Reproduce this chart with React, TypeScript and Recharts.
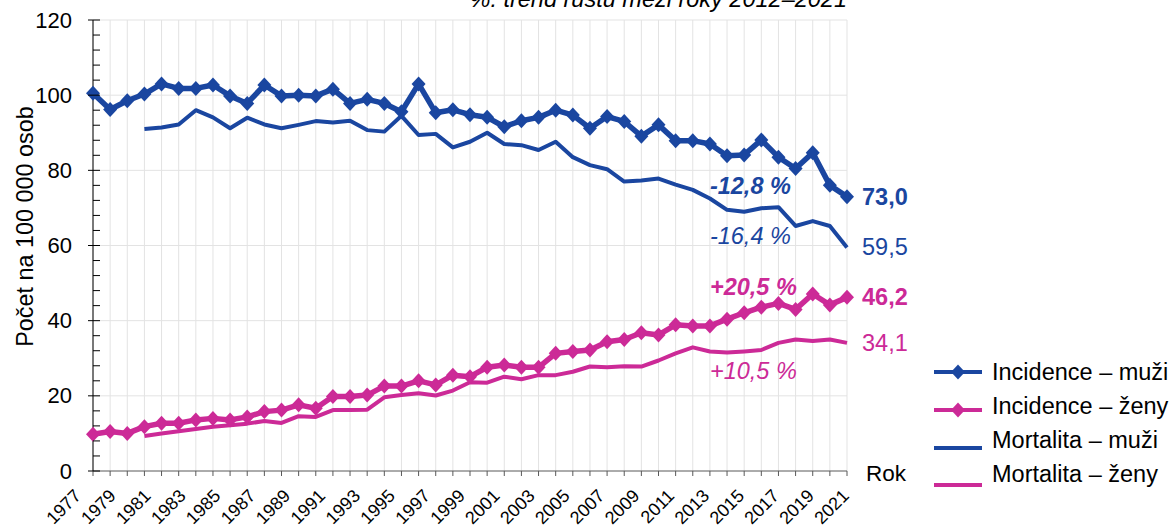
import React from 'react'
import { LineChart, Line, XAxis, YAxis, CartesianGrid, Legend, ReferenceDot } from 'recharts'

const BLUE = '#1a46a0'
const PINK = '#cc2a97'
const FONT = 'Arial, "Liberation Sans", sans-serif'

const years = [
  1977, 1978, 1979, 1980, 1981, 1982, 1983, 1984, 1985, 1986,
  1987, 1988, 1989, 1990, 1991, 1992, 1993, 1994, 1995, 1996,
  1997, 1998, 1999, 2000, 2001, 2002, 2003, 2004, 2005, 2006,
  2007, 2008, 2009, 2010, 2011, 2012, 2013, 2014, 2015, 2016,
  2017, 2018, 2019, 2020, 2021,
]

const incidenceMuzi = [
  100.5, 96.2, 98.5, 100.3, 103.0, 101.8, 101.8, 102.7, 99.8, 97.8,
  102.7, 99.8, 100.0, 99.8, 101.6, 97.8, 98.9, 97.8, 95.6, 103.0,
  95.3, 96.1, 94.8, 94.1, 91.6, 93.2, 94.1, 96.0, 94.7, 91.2,
  94.3, 93.0, 89.1, 92.1, 87.9, 87.9, 87.0, 83.9, 84.1, 88.1,
  83.5, 80.5, 84.7, 76.0, 73.0,
]

const incidenceZeny = [
  9.8, 10.5, 10.0, 11.8, 12.7, 12.7, 13.6, 14.0, 13.6, 14.4,
  15.8, 16.2, 17.6, 16.7, 19.8, 19.8, 20.2, 22.6, 22.6, 24.0,
  22.9, 25.5, 25.1, 27.6, 28.2, 27.6, 27.6, 31.3, 31.8, 32.2,
  34.4, 35.0, 36.8, 36.2, 38.9, 38.6, 38.6, 40.4, 42.1, 43.6,
  44.6, 43.0, 47.1, 44.2, 46.2,
]

const mortalitaMuzi = [
  null, null, null, 91.0, 91.4, 92.2, 96.0, 94.1, 91.2, 94.0,
  92.2, 91.2, 92.1, 93.1, 92.7, 93.2, 90.7, 90.3, 94.5, 89.4,
  89.7, 86.1, 87.6, 90.0, 87.0, 86.7, 85.4, 87.6, 83.5, 81.4,
  80.3, 77.0, 77.3, 77.8, 76.2, 74.8, 72.5, 69.5, 69.0, 69.9,
  70.2, 65.2, 66.5, 65.2, 59.5,
]

const mortalitaZeny = [
  null, null, null, 9.3, 10.0, 10.6, 11.2, 11.8, 12.2, 12.6,
  13.3, 12.8, 14.6, 14.4, 16.2, 16.2, 16.3, 19.6, 20.2, 20.7,
  20.1, 21.4, 23.6, 23.5, 25.1, 24.4, 25.5, 25.5, 26.4, 27.8,
  27.6, 27.9, 27.8, 29.4, 31.3, 32.9, 31.8, 31.5, 31.8, 32.2,
  34.1, 35.0, 34.6, 35.0, 34.1,
]

const yTicks = [0, 4, 8, 12, 16, 20, 24, 28, 32, 36, 40, 44, 48, 52, 56, 60, 64, 68, 72, 76, 80, 84, 88, 92, 96, 100, 104, 108, 112, 116, 120]
const gridValues = [20, 40, 60, 80, 100, 120]

const seriesNames = ['Incidence – muži', 'Incidence – ženy', 'Mortalita – muži', 'Mortalita – ženy']

// trend annotations, placed at 2013
const noteYear = 2013
const noteValues = [75.7, 62.4, 49.0, 26.5]
const noteTexts = ['-12,8 %', '-16,4 %', '+20,5 %', '+10,5 %']
const noteColors = [BLUE, BLUE, PINK, PINK]
const noteBold = [true, false, true, false]

const data = years.map((year, i) => ({
  year,
  incM: incidenceMuzi[i],
  incZ: incidenceZeny[i],
  morM: mortalitaMuzi[i],
  morZ: mortalitaZeny[i],
}))

const last = years.length - 1

const diamond = (color: string) => (props: any) => {
  const { cx, cy, index, value } = props
  if (value == null || cx == null) return <g key={`d-${index}`} />
  return (
    <path
      key={`d-${index}`}
      d={`M${cx},${cy - 7.5} L${cx + 7},${cy} L${cx},${cy + 7.5} L${cx - 7},${cy} Z`}
      fill={color}
      stroke='none'
    />
  )
}

const endLabel = (color: string, bold: boolean) => (props: any) => {
  const { x, y, index, value } = props
  if (index !== last) return <g key={`l-${index}`} />
  return (
    <text
      key={`l-${index}`}
      x={x + 15}
      y={y}
      dominantBaseline='central'
      fontSize={23.5}
      fontWeight={bold ? 'bold' : 'normal'}
      fill={color}
    >
      {Number(value).toFixed(1).replace('.', ',')}
    </text>
  )
}

const YTick = (props: any) => {
  const { x, y, payload } = props
  const major = payload.value % 20 === 0
  const ax = x + 21
  return (
    <g>
      <line x1={major ? ax - 5 : ax} x2={ax + 7} y1={y} y2={y} stroke='#000' strokeWidth={1} />
      {major && (
        <text x={x} y={y} textAnchor='end' dominantBaseline='central' fontSize={22} fill='#000'>
          {payload.value}
        </text>
      )}
    </g>
  )
}

const XTick = (props: any) => {
  const { x, y, payload } = props
  const k = payload.value - 1977
  if (k % 2 !== 0) return <g />
  const tx = x - 11 + (k / 44) * 14
  return (
    <text x={tx} y={y} textAnchor='end' fontSize={18} fill='#000' transform={`rotate(-45 ${tx} ${y})`}>
      {payload.value}
    </text>
  )
}

const LegendBox = () => {
  const colors = [BLUE, PINK, BLUE, PINK]
  return (
    <div style={{ fontFamily: FONT }}>
      {seriesNames.map((name, i) => (
        <div key={name} style={{ position: 'relative', height: 34, whiteSpace: 'nowrap' }}>
          <svg width={48} height={16} style={{ position: 'absolute', left: 0, top: 9 + i * 3.8 }}>
            <line x1={0} x2={48} y1={8} y2={8} stroke={colors[i]} strokeWidth={4} />
            {i < 2 && <path d='M24,0.5 L31,8 L24,15.5 L17,8 Z' fill={colors[i]} />}
          </svg>
          <span style={{ position: 'absolute', left: 58, top: 0, lineHeight: '34px', fontSize: 23.5, color: '#000' }}>
            {name}
          </span>
        </div>
      ))}
    </div>
  )
}

export default function App() {
  return (
    <div style={{ position: 'absolute', left: 0, top: 0, width: 1173, height: 527, background: '#fff', fontFamily: FONT }}>
      <svg width={1173} height={30} style={{ position: 'absolute', left: 0, top: 0 }}>
        <text x={847} y={7} textAnchor='end' fontSize={23.5} fontStyle='italic' fill='#000' fontFamily={FONT}>
          %. trend růstu mezi roky 2012–2021
        </text>
      </svg>
      <LineChart
        width={1173}
        height={527}
        data={data}
        margin={{ top: 20, right: 326, bottom: 0, left: 0 }}
        style={{ fontFamily: FONT, position: 'absolute', left: 0, top: 0 }}
      >
        <CartesianGrid stroke='#e3e3e3' horizontalValues={gridValues} />
        <XAxis
          dataKey='year'
          type='category'
          interval={0}
          height={56}
          tickSize={5}
          tickMargin={21}
          tick={<XTick />}
          axisLine={{ stroke: '#595959' }}
          tickLine={{ stroke: '#595959' }}
          label={(p: any) => (
            <text x={p.viewBox.x + p.viewBox.width + 19} y={p.viewBox.y + 2} dominantBaseline='central' fontSize={22.5} fill='#000'>
              Rok
            </text>
          )}
        />
        <YAxis
          width={93}
          domain={[0, 120]}
          ticks={yTicks}
          interval={0}
          tickSize={0}
          tickMargin={21}
          tick={<YTick />}
          tickLine={false}
          axisLine={{ stroke: '#000' }}
          label={(p: any) => (
            <text
              x={25}
              y={p.viewBox.y + p.viewBox.height / 2 - 19}
              textAnchor='middle'
              dominantBaseline='central'
              fontSize={23.4}
              fill='#000'
              transform={`rotate(-90 25 ${p.viewBox.y + p.viewBox.height / 2 - 19})`}
            >
              Počet na 100 000 osob
            </text>
          )}
        />
        <Legend
          layout='vertical'
          align='center'
          verticalAlign='middle'
          content={<LegendBox />}
          wrapperStyle={{ left: 934, top: 355, width: 239 }}
        />
        <Line
          dataKey='morZ'
          name={seriesNames[3]}
          stroke={PINK}
          strokeWidth={4}
          dot={false}
          strokeLinejoin='round'
          isAnimationActive={false}
          label={endLabel(PINK, false)}
        />
        <Line
          dataKey='morM'
          name={seriesNames[2]}
          stroke={BLUE}
          strokeWidth={4}
          dot={false}
          strokeLinejoin='round'
          isAnimationActive={false}
          label={endLabel(BLUE, false)}
        />
        <Line
          dataKey='incZ'
          name={seriesNames[1]}
          stroke={PINK}
          strokeWidth={5.5}
          dot={diamond(PINK)}
          strokeLinejoin='round'
          isAnimationActive={false}
          label={endLabel(PINK, true)}
        />
        <Line
          dataKey='incM'
          name={seriesNames[0]}
          stroke={BLUE}
          strokeWidth={5.5}
          dot={diamond(BLUE)}
          strokeLinejoin='round'
          isAnimationActive={false}
          label={endLabel(BLUE, true)}
        />
        {noteValues.map((v, i) => (
          <ReferenceDot
            key={noteTexts[i]}
            x={noteYear}
            y={v}
            r={1}
            fill='none'
            stroke='none'
            label={(p: any) => (
              <text
                x={p.viewBox.x + 1}
                y={p.viewBox.y + 1}
                dominantBaseline='central'
                fontSize={23.5}
                fontStyle='italic'
                fontWeight={noteBold[i] ? 'bold' : 'normal'}
                fill={noteColors[i]}
              >
                {noteTexts[i]}
              </text>
            )}
          />
        ))}
      </LineChart>
    </div>
  )
}
